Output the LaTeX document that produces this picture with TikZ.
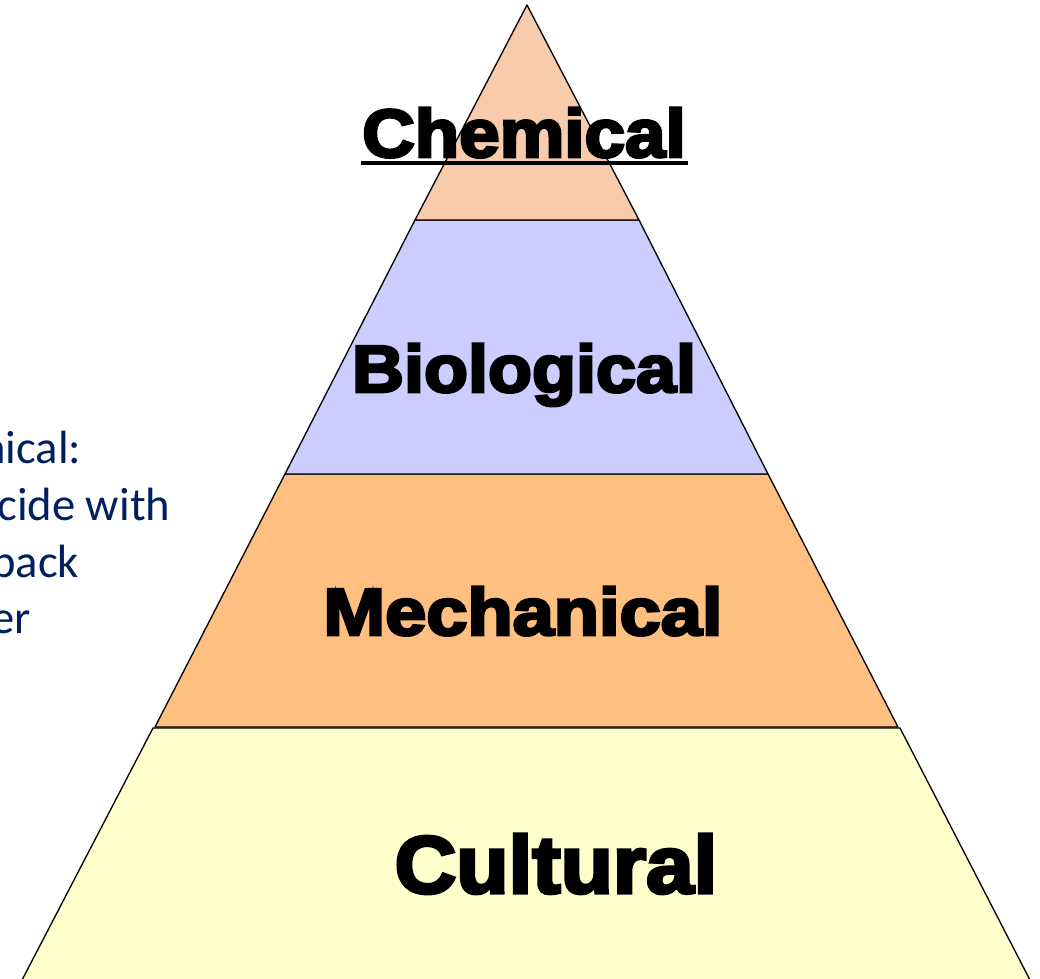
\documentclass[tikz,border=0pt]{standalone}
\usepackage{fontspec}
\usepackage{tikz}
\usetikzlibrary{positioning}
\newfontfamily\heavyfont{Liberation Sans}[BoldFeatures={FakeBold=4}]
\newfontfamily\notefont{Carlito}
\definecolor{chemfill}{HTML}{F8CBAD}
\definecolor{biofill}{HTML}{CCCCFF}
\definecolor{mechfill}{HTML}{FFBF80}
\definecolor{cultfill}{HTML}{FFFFCC}
\definecolor{notecol}{HTML}{002060}

\begin{document}
\begin{tikzpicture}[x=0.75pt,y=-0.75pt,
                band/.style={draw=black,line width=1pt,line join=round},
                lbl/.style={anchor=base,inner sep=0pt,text=black},
                note/.style={anchor=base west,inner sep=0pt,text=notecol,
                    font=\notefont\fontsize{35}{42}\selectfont}]
                \useasboundingbox (0,0) rectangle (1040,979);
                \clip (0,0) rectangle (1040,979);
                % layers of the pyramid
                \draw[band,fill=cultfill] (153,728) -- (900,728) -- (1031,982) -- (21,982) -- cycle;
                \draw[band,fill=mechfill] (285,474) -- (768,474) -- (898,727) -- (155,727) -- cycle;
                \draw[band,fill=biofill] (415,220) -- (639,220) -- (768,474) -- (285,474) -- cycle;
                \draw[band,fill=chemfill] (527,5) -- (639,220) -- (415,220) -- cycle;
                % labels
                \node[lbl,font=\heavyfont\bfseries\fontsize{51}{60}\selectfont,xscale=1.07] (chem) at (524,157) {Chemical};
                \draw[line width=2.3pt] (361,163) -- (688,163);
                \node[lbl,font=\heavyfont\bfseries\fontsize{50}{60}\selectfont,xscale=1.08] (bio) at (524,392) {Biological};
                \node[lbl,font=\heavyfont\bfseries\fontsize{50}{60}\selectfont,xscale=1.11] (mech) at (523,635) {Mechanical};
                \node[lbl,font=\heavyfont\bfseries\fontsize{61}{70}\selectfont,xscale=1.05] (cult) at (556,893) {Cultural};
                % cut off note on the left
                \node[note] (n1) at (-19,463) {nical:};
                \node[note] (n2) at (-3,520) {cide with};
                \node[note] (n3) at (-9,577) {pack};
                \node[note] (n4) at (-9,633) {er};
            \end{tikzpicture}
\end{document}
